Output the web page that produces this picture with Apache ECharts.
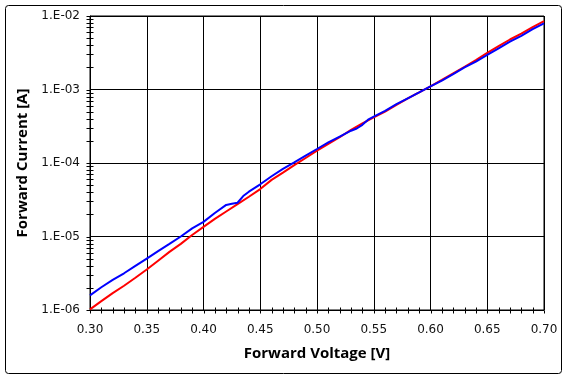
<!DOCTYPE html>
<html><head><meta charset="utf-8">
<script src="https://cdn.jsdelivr.net/npm/echarts@6/dist/echarts.min.js"></script>
<style>html,body{margin:0;padding:0;background:#fff}#c{width:568px;height:380px}</style>
</head><body><div id="c"></div>
<script>
const redVoltage = [0.30,0.31,0.32,0.33,0.34,0.35,0.36,0.37,0.38,0.39,0.40,0.41,0.42,0.43,0.44,0.45,0.46,0.47,0.48,0.49,0.50,0.51,0.52,0.53,0.54,0.55,0.56,0.57,0.58,0.59,0.60,0.61,0.62,0.63,0.64,0.65,0.66,0.67,0.68,0.69,0.70];
const redCurrent = [1.02e-6,1.32e-6,1.70e-6,2.14e-6,2.75e-6,3.55e-6,4.68e-6,6.17e-6,7.94e-6,1.05e-5,1.35e-5,1.74e-5,2.19e-5,2.75e-5,3.47e-5,4.42e-5,5.89e-5,7.41e-5,9.33e-5,1.17e-4,1.47e-4,1.82e-4,2.24e-4,2.82e-4,3.47e-4,4.17e-4,5.01e-4,6.17e-4,7.59e-4,9.12e-4,1.10e-3,1.35e-3,1.66e-3,2.04e-3,2.51e-3,3.16e-3,3.89e-3,4.79e-3,5.75e-3,7.08e-3,8.51e-3];
const blueVoltage = [0.30,0.31,0.32,0.33,0.34,0.35,0.36,0.37,0.38,0.39,0.40,0.41,0.42,0.425,0.43,0.435,0.44,0.45,0.46,0.47,0.48,0.49,0.50,0.51,0.52,0.53,0.535,0.54,0.545,0.55,0.56,0.57,0.58,0.59,0.60,0.61,0.62,0.63,0.64,0.65,0.66,0.67,0.68,0.69,0.70];
const blueCurrent = [1.58e-6,2.04e-6,2.57e-6,3.16e-6,3.98e-6,5.01e-6,6.31e-6,7.94e-6,1.00e-5,1.29e-5,1.58e-5,2.09e-5,2.69e-5,2.79e-5,2.88e-5,3.55e-5,4.07e-5,5.13e-5,6.61e-5,8.32e-5,1.02e-4,1.26e-4,1.55e-4,1.91e-4,2.29e-4,2.75e-4,2.95e-4,3.31e-4,3.89e-4,4.27e-4,5.13e-4,6.31e-4,7.59e-4,9.12e-4,1.10e-3,1.32e-3,1.62e-3,2.00e-3,2.40e-3,2.95e-3,3.63e-3,4.47e-3,5.37e-3,6.61e-3,7.94e-3];

const xTicks = [0.30,0.35,0.40,0.45,0.50,0.55,0.60,0.65,0.70];
const xMinorTicks = [0.31,0.32,0.33,0.34,0.36,0.37,0.38,0.39,0.41,0.42,0.43,0.44,0.46,0.47,0.48,0.49,0.51,0.52,0.53,0.54,0.56,0.57,0.58,0.59,0.61,0.62,0.63,0.64,0.66,0.67,0.68,0.69];
const yTicks = [1e-6,1e-5,1e-4,1e-3,1e-2];
const yTickLabels = ['1.E-06','1.E-05','1.E-04','1.E-03','1.E-02'];
const yMinorTicks = [2e-6,3e-6,4e-6,5e-6,6e-6,7e-6,8e-6,9e-6,2e-5,3e-5,4e-5,5e-5,6e-5,7e-5,8e-5,9e-5,2e-4,3e-4,4e-4,5e-4,6e-4,7e-4,8e-4,9e-4,2e-3,3e-3,4e-3,5e-3,6e-3,7e-3,8e-3,9e-3];

const xMin = xTicks[0], xMax = xTicks[xTicks.length-1];
const yMin = yTicks[0], yMax = yTicks[yTicks.length-1];

const tickData = [];
xMinorTicks.forEach(v => tickData.push([v, yMin, 0]));
xTicks.forEach(v => tickData.push([v, yMin, 1]));
yMinorTicks.forEach(v => tickData.push([xMin, v, 2]));
yTicks.forEach(v => tickData.push([xMin, v, 3]));

const chart = echarts.init(document.getElementById('c'), null, {renderer: 'canvas'});
const FONT = '"DejaVu Sans", Verdana, sans-serif';
const TFONT = '"Open Sans", "Noto Sans", sans-serif';
chart.setOption({
  animation: false,
  backgroundColor: '#fff',
  graphic: [{
    type: 'rect', silent: true,
    shape: {x: 5.5, y: 5.5, width: 556, height: 368, r: 3},
    style: {fill: 'none', stroke: '#000', lineWidth: 1}
  }],
  grid: {left: 90, top: 16, right: 24, bottom: 70, show: true, borderColor: '#000', borderWidth: 1, backgroundColor: 'transparent'},
  xAxis: {
    type: 'value', min: xMin, max: xMax, interval: 0.05,
    name: 'Forward Voltage [V]', nameLocation: 'middle', nameGap: 36,
    nameTextStyle: {fontFamily: TFONT, fontSize: 15, fontWeight: 'bold', color: '#000'},
    axisLine: {show: true, lineStyle: {color: '#000', width: 1}},
    axisTick: {show: false},
    axisLabel: {margin: 14, fontFamily: FONT, fontSize: 12, color: '#111', formatter: v => v.toFixed(2)},
    splitLine: {show: true, lineStyle: {color: '#000', width: 1}}
  },
  yAxis: {
    type: 'log', logBase: 10, min: yMin, max: yMax,
    name: 'Forward Current [A]', nameLocation: 'middle', nameGap: 60,
    nameTextStyle: {fontFamily: TFONT, fontSize: 15, fontWeight: 'bold', color: '#000'},
    axisLine: {show: true, lineStyle: {color: '#000', width: 1}},
    axisTick: {show: false},
    axisLabel: {margin: 10, fontFamily: FONT, fontSize: 12, color: '#111',
      formatter: v => {
        const e = Math.round(Math.log10(v));
        const i = yTicks.findIndex(t => Math.round(Math.log10(t)) === e);
        return i >= 0 ? yTickLabels[i] : '';
      }},
    splitLine: {show: true, lineStyle: {color: '#000', width: 1}}
  },
  series: [
    {
      type: 'custom', silent: true, clip: false, z: 1,
      data: tickData,
      encode: {x: 0, y: 1},
      renderItem: (params, api) => {
        const p = api.coord([api.value(0), api.value(1)]);
        const k = api.value(2);
        let shape;
        const x = Math.round(p[0]) + 0.5, y = Math.round(p[1]) + 0.5;
        if (k === 0) shape = {x1: x, y1: y - 3, x2: x, y2: y + 3};
        else if (k === 1) shape = {x1: x, y1: y, x2: x, y2: y + 3};
        else if (k === 2) shape = {x1: x - 4, y1: y, x2: x + 3, y2: y};
        else shape = {x1: x - 4, y1: y, x2: x, y2: y};
        return {type: 'line', shape: shape, style: {stroke: '#000', lineWidth: 1}};
      }
    },
    {
      type: 'line', name: 'red', showSymbol: false, z: 3,
      data: redVoltage.map((v, i) => [v, redCurrent[i]]),
      lineStyle: {color: '#ff0000', width: 2}, itemStyle: {color: '#ff0000'}
    },
    {
      type: 'line', name: 'blue', showSymbol: false, z: 4,
      data: blueVoltage.map((v, i) => [v, blueCurrent[i]]),
      lineStyle: {color: '#0000ff', width: 2}, itemStyle: {color: '#0000ff'}
    }
  ]
});
</script></body></html>
